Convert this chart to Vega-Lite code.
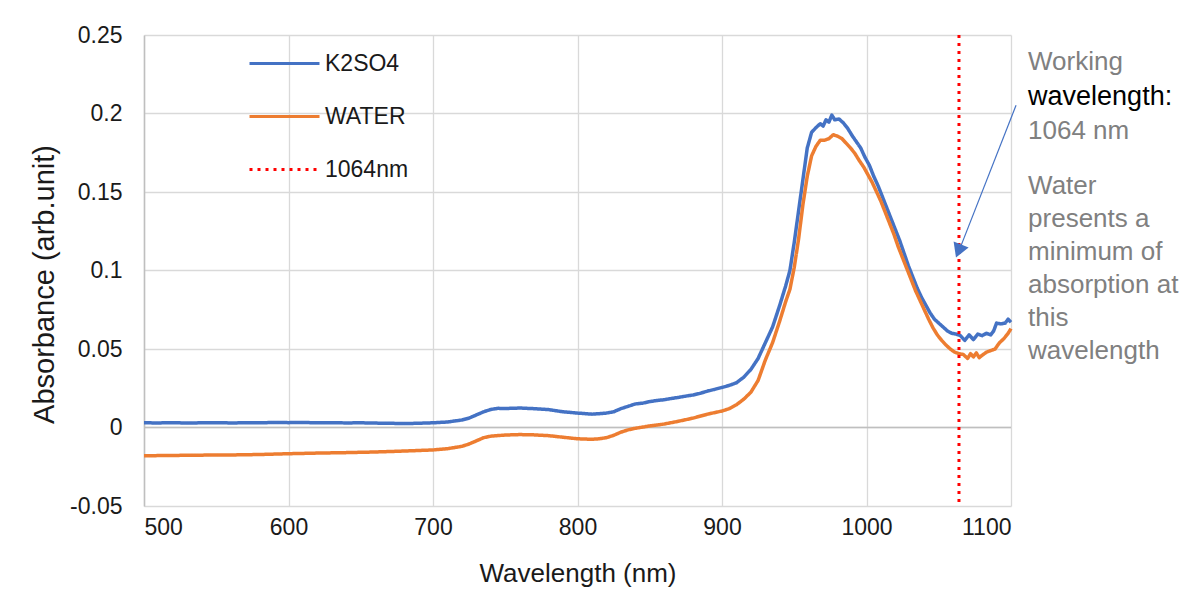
{
  "$schema": "https://vega.github.io/schema/vega-lite/v6.json",
  "width": 867,
  "height": 471,
  "autosize": {"type": "none"},
  "padding": {"left": 144, "top": 35, "right": 186, "bottom": 88},
  "background": "white",
  "config": {
    "font": "Liberation Sans",
    "view": {"stroke": null},
    "axis": {
      "gridColor": "#d9d9d9",
      "gridWidth": 1.3,
      "ticks": false,
      "labelColor": "#1a1a1a",
      "titleColor": "#1a1a1a",
      "labelFontSize": 23,
      "titleFontSize": 26,
      "titleFontWeight": "normal"
    },
    "legend": {
      "orient": "none",
      "legendX": 104,
      "legendY": -8,
      "labelFontSize": 23,
      "labelColor": "#1a1a1a",
      "symbolType": "stroke",
      "symbolSize": 4900,
      "symbolStrokeWidth": 3,
      "rowPadding": 4,
      "labelOffset": 4
    }
  },
  "datasets": {
    "spectra": [
      {"wavelength": 500, "series": "K2SO4", "absorbance": 0.0030},
      {"wavelength": 510, "series": "K2SO4", "absorbance": 0.0029},
      {"wavelength": 520, "series": "K2SO4", "absorbance": 0.0031},
      {"wavelength": 530, "series": "K2SO4", "absorbance": 0.0028},
      {"wavelength": 540, "series": "K2SO4", "absorbance": 0.0030},
      {"wavelength": 550, "series": "K2SO4", "absorbance": 0.0031},
      {"wavelength": 560, "series": "K2SO4", "absorbance": 0.0029},
      {"wavelength": 570, "series": "K2SO4", "absorbance": 0.0030},
      {"wavelength": 580, "series": "K2SO4", "absorbance": 0.0030},
      {"wavelength": 590, "series": "K2SO4", "absorbance": 0.0032},
      {"wavelength": 600, "series": "K2SO4", "absorbance": 0.0031},
      {"wavelength": 610, "series": "K2SO4", "absorbance": 0.0032},
      {"wavelength": 620, "series": "K2SO4", "absorbance": 0.0030},
      {"wavelength": 630, "series": "K2SO4", "absorbance": 0.0031},
      {"wavelength": 640, "series": "K2SO4", "absorbance": 0.0029},
      {"wavelength": 650, "series": "K2SO4", "absorbance": 0.0030},
      {"wavelength": 660, "series": "K2SO4", "absorbance": 0.0028},
      {"wavelength": 670, "series": "K2SO4", "absorbance": 0.0027},
      {"wavelength": 680, "series": "K2SO4", "absorbance": 0.0025},
      {"wavelength": 690, "series": "K2SO4", "absorbance": 0.0027},
      {"wavelength": 700, "series": "K2SO4", "absorbance": 0.0030},
      {"wavelength": 710, "series": "K2SO4", "absorbance": 0.0035},
      {"wavelength": 720, "series": "K2SO4", "absorbance": 0.0048},
      {"wavelength": 725, "series": "K2SO4", "absorbance": 0.0060},
      {"wavelength": 730, "series": "K2SO4", "absorbance": 0.0080},
      {"wavelength": 735, "series": "K2SO4", "absorbance": 0.0100},
      {"wavelength": 740, "series": "K2SO4", "absorbance": 0.0115},
      {"wavelength": 745, "series": "K2SO4", "absorbance": 0.0122},
      {"wavelength": 750, "series": "K2SO4", "absorbance": 0.0121},
      {"wavelength": 760, "series": "K2SO4", "absorbance": 0.0124},
      {"wavelength": 770, "series": "K2SO4", "absorbance": 0.0120},
      {"wavelength": 780, "series": "K2SO4", "absorbance": 0.0114},
      {"wavelength": 790, "series": "K2SO4", "absorbance": 0.0100},
      {"wavelength": 800, "series": "K2SO4", "absorbance": 0.0092},
      {"wavelength": 810, "series": "K2SO4", "absorbance": 0.0085},
      {"wavelength": 815, "series": "K2SO4", "absorbance": 0.0088},
      {"wavelength": 820, "series": "K2SO4", "absorbance": 0.0092},
      {"wavelength": 825, "series": "K2SO4", "absorbance": 0.0100},
      {"wavelength": 830, "series": "K2SO4", "absorbance": 0.0120},
      {"wavelength": 835, "series": "K2SO4", "absorbance": 0.0135},
      {"wavelength": 840, "series": "K2SO4", "absorbance": 0.0150},
      {"wavelength": 845, "series": "K2SO4", "absorbance": 0.0155},
      {"wavelength": 850, "series": "K2SO4", "absorbance": 0.0165},
      {"wavelength": 855, "series": "K2SO4", "absorbance": 0.0172},
      {"wavelength": 860, "series": "K2SO4", "absorbance": 0.0177},
      {"wavelength": 865, "series": "K2SO4", "absorbance": 0.0185},
      {"wavelength": 870, "series": "K2SO4", "absorbance": 0.0192},
      {"wavelength": 875, "series": "K2SO4", "absorbance": 0.0200},
      {"wavelength": 880, "series": "K2SO4", "absorbance": 0.0207},
      {"wavelength": 885, "series": "K2SO4", "absorbance": 0.0218},
      {"wavelength": 890, "series": "K2SO4", "absorbance": 0.0232},
      {"wavelength": 895, "series": "K2SO4", "absorbance": 0.0243},
      {"wavelength": 900, "series": "K2SO4", "absorbance": 0.0255},
      {"wavelength": 905, "series": "K2SO4", "absorbance": 0.0268},
      {"wavelength": 910, "series": "K2SO4", "absorbance": 0.0285},
      {"wavelength": 915, "series": "K2SO4", "absorbance": 0.0320},
      {"wavelength": 920, "series": "K2SO4", "absorbance": 0.0370},
      {"wavelength": 925, "series": "K2SO4", "absorbance": 0.0440},
      {"wavelength": 930, "series": "K2SO4", "absorbance": 0.0540},
      {"wavelength": 935, "series": "K2SO4", "absorbance": 0.0640},
      {"wavelength": 940, "series": "K2SO4", "absorbance": 0.0780},
      {"wavelength": 944, "series": "K2SO4", "absorbance": 0.0900},
      {"wavelength": 947, "series": "K2SO4", "absorbance": 0.1000},
      {"wavelength": 950, "series": "K2SO4", "absorbance": 0.1180},
      {"wavelength": 953, "series": "K2SO4", "absorbance": 0.1380},
      {"wavelength": 956, "series": "K2SO4", "absorbance": 0.1580},
      {"wavelength": 959, "series": "K2SO4", "absorbance": 0.1780},
      {"wavelength": 962, "series": "K2SO4", "absorbance": 0.1880},
      {"wavelength": 965, "series": "K2SO4", "absorbance": 0.1910},
      {"wavelength": 968, "series": "K2SO4", "absorbance": 0.1935},
      {"wavelength": 970, "series": "K2SO4", "absorbance": 0.1920},
      {"wavelength": 972, "series": "K2SO4", "absorbance": 0.1960},
      {"wavelength": 974, "series": "K2SO4", "absorbance": 0.1945},
      {"wavelength": 976, "series": "K2SO4", "absorbance": 0.1990},
      {"wavelength": 978, "series": "K2SO4", "absorbance": 0.1960},
      {"wavelength": 981, "series": "K2SO4", "absorbance": 0.1965},
      {"wavelength": 984, "series": "K2SO4", "absorbance": 0.1940},
      {"wavelength": 987, "series": "K2SO4", "absorbance": 0.1905},
      {"wavelength": 990, "series": "K2SO4", "absorbance": 0.1860},
      {"wavelength": 993, "series": "K2SO4", "absorbance": 0.1820},
      {"wavelength": 996, "series": "K2SO4", "absorbance": 0.1780},
      {"wavelength": 999, "series": "K2SO4", "absorbance": 0.1720},
      {"wavelength": 1002, "series": "K2SO4", "absorbance": 0.1670},
      {"wavelength": 1005, "series": "K2SO4", "absorbance": 0.1600},
      {"wavelength": 1008, "series": "K2SO4", "absorbance": 0.1540},
      {"wavelength": 1011, "series": "K2SO4", "absorbance": 0.1470},
      {"wavelength": 1014, "series": "K2SO4", "absorbance": 0.1400},
      {"wavelength": 1017, "series": "K2SO4", "absorbance": 0.1330},
      {"wavelength": 1020, "series": "K2SO4", "absorbance": 0.1260},
      {"wavelength": 1023, "series": "K2SO4", "absorbance": 0.1190},
      {"wavelength": 1026, "series": "K2SO4", "absorbance": 0.1110},
      {"wavelength": 1029, "series": "K2SO4", "absorbance": 0.1030},
      {"wavelength": 1032, "series": "K2SO4", "absorbance": 0.0960},
      {"wavelength": 1035, "series": "K2SO4", "absorbance": 0.0890},
      {"wavelength": 1038, "series": "K2SO4", "absorbance": 0.0830},
      {"wavelength": 1041, "series": "K2SO4", "absorbance": 0.0780},
      {"wavelength": 1044, "series": "K2SO4", "absorbance": 0.0730},
      {"wavelength": 1047, "series": "K2SO4", "absorbance": 0.0690},
      {"wavelength": 1050, "series": "K2SO4", "absorbance": 0.0665},
      {"wavelength": 1053, "series": "K2SO4", "absorbance": 0.0640},
      {"wavelength": 1056, "series": "K2SO4", "absorbance": 0.0615},
      {"wavelength": 1059, "series": "K2SO4", "absorbance": 0.0600},
      {"wavelength": 1062, "series": "K2SO4", "absorbance": 0.0595},
      {"wavelength": 1065, "series": "K2SO4", "absorbance": 0.0585},
      {"wavelength": 1068, "series": "K2SO4", "absorbance": 0.0555},
      {"wavelength": 1071, "series": "K2SO4", "absorbance": 0.0590},
      {"wavelength": 1074, "series": "K2SO4", "absorbance": 0.0560},
      {"wavelength": 1077, "series": "K2SO4", "absorbance": 0.0595},
      {"wavelength": 1080, "series": "K2SO4", "absorbance": 0.0585},
      {"wavelength": 1083, "series": "K2SO4", "absorbance": 0.0600},
      {"wavelength": 1086, "series": "K2SO4", "absorbance": 0.0590},
      {"wavelength": 1088, "series": "K2SO4", "absorbance": 0.0615},
      {"wavelength": 1090, "series": "K2SO4", "absorbance": 0.0665},
      {"wavelength": 1093, "series": "K2SO4", "absorbance": 0.0660},
      {"wavelength": 1096, "series": "K2SO4", "absorbance": 0.0665},
      {"wavelength": 1098, "series": "K2SO4", "absorbance": 0.0690},
      {"wavelength": 1100, "series": "K2SO4", "absorbance": 0.0670},
      {"wavelength": 500, "series": "WATER", "absorbance": -0.0180},
      {"wavelength": 520, "series": "WATER", "absorbance": -0.0178},
      {"wavelength": 540, "series": "WATER", "absorbance": -0.0176},
      {"wavelength": 560, "series": "WATER", "absorbance": -0.0175},
      {"wavelength": 580, "series": "WATER", "absorbance": -0.0172},
      {"wavelength": 600, "series": "WATER", "absorbance": -0.0167},
      {"wavelength": 620, "series": "WATER", "absorbance": -0.0163},
      {"wavelength": 640, "series": "WATER", "absorbance": -0.0160},
      {"wavelength": 660, "series": "WATER", "absorbance": -0.0156},
      {"wavelength": 680, "series": "WATER", "absorbance": -0.0150},
      {"wavelength": 700, "series": "WATER", "absorbance": -0.0143},
      {"wavelength": 710, "series": "WATER", "absorbance": -0.0135},
      {"wavelength": 720, "series": "WATER", "absorbance": -0.0120},
      {"wavelength": 725, "series": "WATER", "absorbance": -0.0105},
      {"wavelength": 730, "series": "WATER", "absorbance": -0.0085},
      {"wavelength": 735, "series": "WATER", "absorbance": -0.0065},
      {"wavelength": 740, "series": "WATER", "absorbance": -0.0055},
      {"wavelength": 750, "series": "WATER", "absorbance": -0.0048},
      {"wavelength": 760, "series": "WATER", "absorbance": -0.0045},
      {"wavelength": 770, "series": "WATER", "absorbance": -0.0047},
      {"wavelength": 780, "series": "WATER", "absorbance": -0.0052},
      {"wavelength": 790, "series": "WATER", "absorbance": -0.0062},
      {"wavelength": 800, "series": "WATER", "absorbance": -0.0072},
      {"wavelength": 810, "series": "WATER", "absorbance": -0.0075},
      {"wavelength": 815, "series": "WATER", "absorbance": -0.0072},
      {"wavelength": 820, "series": "WATER", "absorbance": -0.0065},
      {"wavelength": 825, "series": "WATER", "absorbance": -0.0050},
      {"wavelength": 830, "series": "WATER", "absorbance": -0.0030},
      {"wavelength": 835, "series": "WATER", "absorbance": -0.0015},
      {"wavelength": 840, "series": "WATER", "absorbance": -0.0005},
      {"wavelength": 850, "series": "WATER", "absorbance": 0.0010},
      {"wavelength": 860, "series": "WATER", "absorbance": 0.0022},
      {"wavelength": 870, "series": "WATER", "absorbance": 0.0040},
      {"wavelength": 880, "series": "WATER", "absorbance": 0.0060},
      {"wavelength": 890, "series": "WATER", "absorbance": 0.0085},
      {"wavelength": 900, "series": "WATER", "absorbance": 0.0105},
      {"wavelength": 905, "series": "WATER", "absorbance": 0.0120},
      {"wavelength": 910, "series": "WATER", "absorbance": 0.0145},
      {"wavelength": 915, "series": "WATER", "absorbance": 0.0180},
      {"wavelength": 920, "series": "WATER", "absorbance": 0.0225},
      {"wavelength": 925, "series": "WATER", "absorbance": 0.0300},
      {"wavelength": 930, "series": "WATER", "absorbance": 0.0430},
      {"wavelength": 935, "series": "WATER", "absorbance": 0.0540},
      {"wavelength": 940, "series": "WATER", "absorbance": 0.0680},
      {"wavelength": 944, "series": "WATER", "absorbance": 0.0800},
      {"wavelength": 947, "series": "WATER", "absorbance": 0.0880},
      {"wavelength": 950, "series": "WATER", "absorbance": 0.1020},
      {"wavelength": 953, "series": "WATER", "absorbance": 0.1200},
      {"wavelength": 956, "series": "WATER", "absorbance": 0.1420},
      {"wavelength": 959, "series": "WATER", "absorbance": 0.1600},
      {"wavelength": 962, "series": "WATER", "absorbance": 0.1730},
      {"wavelength": 965, "series": "WATER", "absorbance": 0.1790},
      {"wavelength": 968, "series": "WATER", "absorbance": 0.1830},
      {"wavelength": 971, "series": "WATER", "absorbance": 0.1830},
      {"wavelength": 974, "series": "WATER", "absorbance": 0.1840},
      {"wavelength": 977, "series": "WATER", "absorbance": 0.1865},
      {"wavelength": 980, "series": "WATER", "absorbance": 0.1855},
      {"wavelength": 983, "series": "WATER", "absorbance": 0.1840},
      {"wavelength": 986, "series": "WATER", "absorbance": 0.1810},
      {"wavelength": 989, "series": "WATER", "absorbance": 0.1780},
      {"wavelength": 992, "series": "WATER", "absorbance": 0.1745},
      {"wavelength": 995, "series": "WATER", "absorbance": 0.1700},
      {"wavelength": 998, "series": "WATER", "absorbance": 0.1660},
      {"wavelength": 1001, "series": "WATER", "absorbance": 0.1610},
      {"wavelength": 1004, "series": "WATER", "absorbance": 0.1560},
      {"wavelength": 1007, "series": "WATER", "absorbance": 0.1500},
      {"wavelength": 1010, "series": "WATER", "absorbance": 0.1440},
      {"wavelength": 1013, "series": "WATER", "absorbance": 0.1370},
      {"wavelength": 1016, "series": "WATER", "absorbance": 0.1300},
      {"wavelength": 1019, "series": "WATER", "absorbance": 0.1230},
      {"wavelength": 1022, "series": "WATER", "absorbance": 0.1150},
      {"wavelength": 1025, "series": "WATER", "absorbance": 0.1080},
      {"wavelength": 1028, "series": "WATER", "absorbance": 0.1010},
      {"wavelength": 1031, "series": "WATER", "absorbance": 0.0940},
      {"wavelength": 1034, "series": "WATER", "absorbance": 0.0870},
      {"wavelength": 1037, "series": "WATER", "absorbance": 0.0810},
      {"wavelength": 1040, "series": "WATER", "absorbance": 0.0750},
      {"wavelength": 1043, "series": "WATER", "absorbance": 0.0690},
      {"wavelength": 1046, "series": "WATER", "absorbance": 0.0635},
      {"wavelength": 1049, "series": "WATER", "absorbance": 0.0590},
      {"wavelength": 1052, "series": "WATER", "absorbance": 0.0555},
      {"wavelength": 1055, "series": "WATER", "absorbance": 0.0525},
      {"wavelength": 1058, "series": "WATER", "absorbance": 0.0500},
      {"wavelength": 1061, "series": "WATER", "absorbance": 0.0480},
      {"wavelength": 1064, "series": "WATER", "absorbance": 0.0470},
      {"wavelength": 1067, "series": "WATER", "absorbance": 0.0465},
      {"wavelength": 1070, "series": "WATER", "absorbance": 0.0440},
      {"wavelength": 1072, "series": "WATER", "absorbance": 0.0470},
      {"wavelength": 1074, "series": "WATER", "absorbance": 0.0450},
      {"wavelength": 1076, "series": "WATER", "absorbance": 0.0475},
      {"wavelength": 1078, "series": "WATER", "absorbance": 0.0445},
      {"wavelength": 1080, "series": "WATER", "absorbance": 0.0460},
      {"wavelength": 1083, "series": "WATER", "absorbance": 0.0480},
      {"wavelength": 1086, "series": "WATER", "absorbance": 0.0490},
      {"wavelength": 1089, "series": "WATER", "absorbance": 0.0500},
      {"wavelength": 1092, "series": "WATER", "absorbance": 0.0540},
      {"wavelength": 1095, "series": "WATER", "absorbance": 0.0565},
      {"wavelength": 1098, "series": "WATER", "absorbance": 0.0600},
      {"wavelength": 1100, "series": "WATER", "absorbance": 0.0630}
    ],
    "marker": [
      {"wavelength": 1064, "series": "1064nm"}
    ],
    "single": [{}]
  },
  "layer": [
    {
      "data": {"name": "single"},
      "mark": {"type": "rule", "color": "#bfbfbf", "strokeWidth": 1.5},
      "encoding": {
        "y": {
          "datum": 0,
          "type": "quantitative",
          "scale": {"domain": [-0.05, 0.25], "nice": false, "zero": false},
          "axis": {
            "title": "Absorbance (arb.unit)",
            "values": [-0.05, 0, 0.05, 0.1, 0.15, 0.2, 0.25],
            "labelExpr": "replace(format(datum.value, '~g'), '\u2212', '-')",
            "grid": true,
            "gridColor": "#d9d9d9",
            "domain": true,
            "domainColor": "#bfbfbf",
            "domainWidth": 1.5,
            "labelPadding": 22,
            "titlePadding": 10,
            "titleFontSize": 29,
            "titleY": 249
          }
        }
      }
    },
    {
      "data": {"name": "spectra"},
      "mark": {"type": "line", "strokeWidth": 3.5, "strokeJoin": "round"},
      "encoding": {
        "x": {
          "field": "wavelength",
          "type": "quantitative",
          "scale": {"domain": [500, 1100], "nice": false, "zero": false},
          "axis": {
            "title": "Wavelength (nm)",
            "values": [500, 600, 700, 800, 900, 1000, 1100],
            "format": "d",
            "domain": false,
            "labelPadding": 10,
            "titlePadding": 21
          }
        },
        "y": {"field": "absorbance", "type": "quantitative"},
        "color": {
          "field": "series",
          "type": "nominal",
          "scale": {"domain": ["K2SO4", "WATER", "1064nm"], "range": ["#4472C4", "#ED7D31", "#FF0000"]},
          "legend": {"title": null}
        },
        "strokeDash": {
          "field": "series",
          "type": "nominal",
          "scale": {"domain": ["K2SO4", "WATER", "1064nm"], "range": [[1, 0], [1, 0], [3, 5]]},
          "legend": {"title": null}
        }
      }
    },
    {
      "data": {"name": "marker"},
      "mark": {"type": "rule", "strokeWidth": 3},
      "encoding": {
        "x": {"field": "wavelength", "type": "quantitative"},
        "color": {"field": "series", "type": "nominal"},
        "strokeDash": {"field": "series", "type": "nominal"}
      }
    },
    {
      "data": {"name": "single"},
      "mark": {"type": "rule", "color": "#4472C4", "strokeWidth": 1.2, "clip": false},
      "encoding": {
        "x": {"datum": 1103.5, "type": "quantitative"},
        "y": {"datum": 0.2053, "type": "quantitative"},
        "x2": {"datum": 1065.5},
        "y2": {"datum": 0.1160}
      }
    },
    {
      "data": {"name": "single"},
      "mark": {"type": "point", "shape": "triangle-up", "filled": true, "color": "#4472C4", "opacity": 1, "size": 260, "angle": 201.5, "clip": false},
      "encoding": {
        "x": {"datum": 1063.7, "type": "quantitative"},
        "y": {"datum": 0.1124, "type": "quantitative"}
      }
    },
    {
      "data": {"name": "single"},
      "mark": {"type": "text", "text": "Working", "align": "left", "baseline": "middle", "fontSize": 26, "color": "#808080", "clip": false},
      "encoding": {
        "x": {"datum": 1111.8, "type": "quantitative"},
        "y": {"datum": 0.2327, "type": "quantitative"}
      }
    },
    {
      "data": {"name": "single"},
      "mark": {"type": "text", "text": "wavelength:", "align": "left", "baseline": "middle", "fontSize": 27, "color": "#000000", "clip": false},
      "encoding": {
        "x": {"datum": 1111.8, "type": "quantitative"},
        "y": {"datum": 0.2104, "type": "quantitative"}
      }
    },
    {
      "data": {"name": "single"},
      "mark": {"type": "text", "text": "1064 nm", "align": "left", "baseline": "middle", "fontSize": 26, "color": "#808080", "clip": false},
      "encoding": {
        "x": {"datum": 1111.8, "type": "quantitative"},
        "y": {"datum": 0.1887, "type": "quantitative"}
      }
    },
    {
      "data": {"name": "single"},
      "mark": {"type": "text", "text": ["Water", "presents a", "minimum of", "absorption at", "this", "wavelength"], "lineHeight": 33, "align": "left", "baseline": "middle", "fontSize": 26, "color": "#808080", "clip": false},
      "encoding": {
        "x": {"datum": 1111.8, "type": "quantitative"},
        "y": {"datum": 0.1537, "type": "quantitative"}
      }
    }
  ]
}
